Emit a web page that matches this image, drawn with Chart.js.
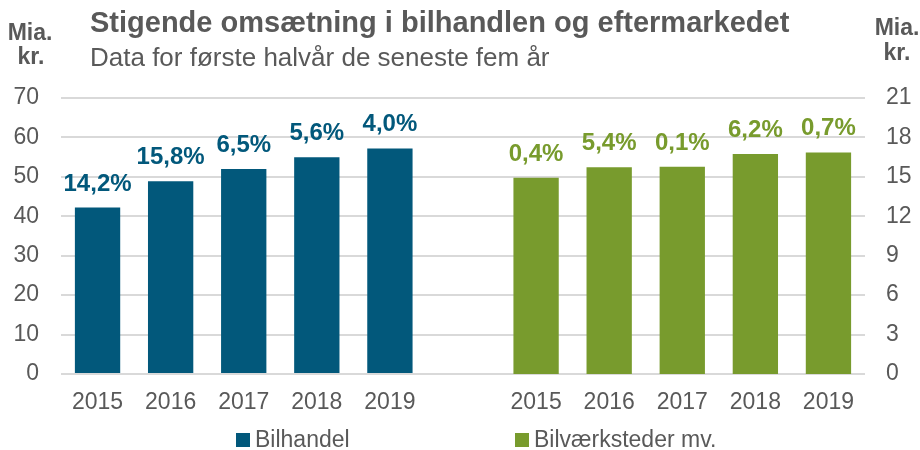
<!DOCTYPE html>
<html>
<head>
<meta charset="utf-8">
<script src="https://cdn.jsdelivr.net/npm/chart.js@4"></script>
<style>
  html, body { margin: 0; padding: 0; background: #ffffff; }
  #wrap { position: relative; width: 920px; height: 450px; }
</style>
</head>
<body>
<div id="wrap"><canvas id="c" width="920" height="450"></canvas></div>
<script>
// ---- Data ----
const years = ['2015', '2016', '2017', '2018', '2019'];
const bilhandel = [42.2, 48.9, 52.0, 55.0, 57.2];          // Mia. kr. (left axis)
const bilvaerksteder = [14.94, 15.74, 15.76, 16.74, 16.86]; // Mia. kr. (right axis)
const bilhandelGrowth = ['14,2%', '15,8%', '6,5%', '5,6%', '4,0%'];
const vaerkstedGrowth = ['0,4%', '5,4%', '0,1%', '6,2%', '0,7%'];
const leftTicks = [0, 10, 20, 30, 40, 50, 60, 70];
const rightTicks = [0, 3, 6, 9, 12, 15, 18, 21];
const seriesNames = ['Bilhandel', 'Bilværksteder mv.'];
const titleText = 'Stigende omsætning i bilhandlen og eftermarkedet';
const subtitleText = 'Data for første halvår de seneste fem år';
const unitText = ['Mia.', 'kr.'];

// Build table for the library: 5 years, one empty gap slot, 5 years
const gap = [null];
const categories = [...years, '', ...years];
const leftData = [...bilhandel, ...gap, ...years.map(() => null)];
const rightData = [...years.map(() => null), ...gap, ...bilvaerksteder];
const leftLabels = [...bilhandelGrowth, ...gap, ...years.map(() => null)];
const rightLabels = [...years.map(() => null), ...gap, ...vaerkstedGrowth];

const BLUE = '#02587B';
const GREEN = '#789B2D';
const TEXT = '#595959';
const GRID = '#D9D9D9';
const FONT = '"Liberation Sans", Arial, sans-serif';

const valueLabels = {
  id: 'valueLabels',
  afterDatasetsDraw(chart) {
    const ctx = chart.ctx;
    const lists = [leftLabels, rightLabels];
    ctx.save();
    ctx.font = 'bold 24px ' + FONT;
    ctx.textAlign = 'center';
    ctx.textBaseline = 'alphabetic';
    chart.data.datasets.forEach((ds, di) => {
      const meta = chart.getDatasetMeta(di);
      ctx.fillStyle = ds.backgroundColor;
      meta.data.forEach((el, i) => {
        const lbl = lists[di][i];
        if (lbl == null || ds.data[i] == null) return;
        ctx.fillText(lbl, el.x, el.y - 17);
      });
    });
    ctx.restore();
  }
};

const headerAndLegend = {
  id: 'headerAndLegend',
  afterDraw(chart) {
    const ctx = chart.ctx;
    ctx.save();
    ctx.fillStyle = TEXT;
    ctx.textBaseline = 'alphabetic';
    // title + subtitle
    ctx.textAlign = 'left';
    ctx.font = 'bold 29px ' + FONT;
    ctx.fillText(titleText, 90, 32);
    ctx.font = '26px ' + FONT;
    ctx.fillText(subtitleText, 90, 66);
    // axis unit labels
    ctx.textAlign = 'center';
    ctx.font = 'bold 23px ' + FONT;
    ctx.fillText(unitText[0], 30, 40);
    ctx.fillText(unitText[1], 31, 64);
    ctx.fillText(unitText[0], 897, 35);
    ctx.fillText(unitText[1], 897, 60);
    // legend
    const items = [{ x: 236 }, { x: 515 }];
    ctx.textAlign = 'left';
    ctx.font = '23px ' + FONT;
    chart.data.datasets.forEach((ds, i) => {
      const it = items[i];
      ctx.fillStyle = ds.backgroundColor;
      ctx.fillRect(it.x, 433, 14, 14);
      ctx.fillStyle = TEXT;
      ctx.fillText(ds.label, it.x + 19, 447);
    });
    ctx.restore();
  }
};

new Chart(document.getElementById('c'), {
  type: 'bar',
  data: {
    labels: categories,
    datasets: [
      { label: seriesNames[0], data: leftData, yAxisID: 'y', backgroundColor: BLUE },
      { label: seriesNames[1], data: rightData, yAxisID: 'y1', backgroundColor: GREEN }
    ]
  },
  options: {
    responsive: false,
    animation: false,
    devicePixelRatio: 1,
    layout: { padding: { top: 98, left: 14, right: 9, bottom: 34 } },
    datasets: { bar: { grouped: false, barPercentage: 0.62, categoryPercentage: 1.0 } },
    plugins: {
      legend: { display: false },
      title: { display: false },
      tooltip: { enabled: false }
    },
    scales: {
      x: {
        grid: { display: false, drawTicks: false },
        border: { display: false },
        ticks: { color: TEXT, font: { family: FONT, size: 23 }, padding: 15, maxRotation: 0, autoSkip: false },
        afterFit: (s) => { s.height = 42; }
      },
      y: {
        position: 'left',
        min: 0, max: 70,
        afterBuildTicks: (s) => { s.ticks = leftTicks.map(v => ({ value: v })); },
        grid: { color: GRID, lineWidth: 2, drawTicks: false },
        border: { display: false },
        ticks: { color: TEXT, font: { family: FONT, size: 23 }, padding: 22 },
        afterFit: (s) => { s.width = 47; }
      },
      y1: {
        position: 'right',
        min: 0, max: 21,
        afterBuildTicks: (s) => { s.ticks = rightTicks.map(v => ({ value: v })); },
        grid: { display: false, drawTicks: false },
        border: { display: false },
        ticks: { color: TEXT, font: { family: FONT, size: 23 }, padding: 21 },
        afterFit: (s) => { s.width = 46; }
      }
    }
  },
  plugins: [valueLabels, headerAndLegend]
});
</script>
</body>
</html>
